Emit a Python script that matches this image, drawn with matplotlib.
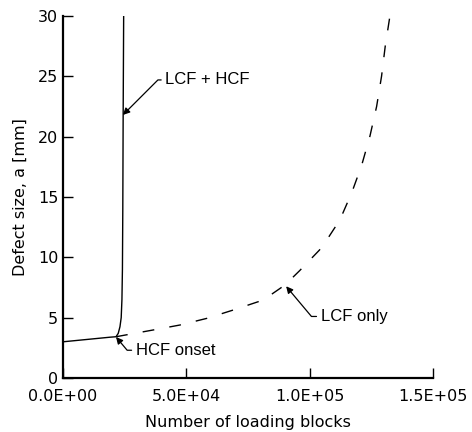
import numpy as np
import matplotlib.pyplot as plt

# crack growth, LCF + HCF (solid)
blocks_mixed = [0, 5000, 10000, 15000, 19000, 21500, 22400, 23100, 23600, 23900, 24100, 24250, 24400, 24600]
size_mixed = [3.0, 3.1, 3.2, 3.3, 3.38, 3.42, 3.7, 4.25, 5.0, 6.5, 9.0, 14.0, 22.0, 30.0]

# crack growth, LCF only (dashed)
blocks_lcf = [21500, 36600, 47400, 58300, 69000, 81200, 90000, 96000, 104000, 107500,
              112300, 117100, 121100, 124500, 127200, 129200, 130700, 132600]
size_lcf = [3.42, 3.98, 4.39, 4.94, 5.63, 6.46, 7.7, 8.9, 10.6, 11.6,
            13.1, 15.35, 17.6, 20.05, 22.5, 25.0, 27.5, 30.0]

xticks = [0, 5e4, 1e5, 1.5e5]
xtick_labels = ["0.0E+00", "5.0E+04", "1.0E+05", "1.5E+05"]
yticks = [0, 5, 10, 15, 20, 25, 30]

fig = plt.figure(figsize=(4.72, 4.32), dpi=100)
ax = fig.add_axes([0.1335, 0.125, 0.7835, 0.838])

ax.plot(blocks_mixed, size_mixed, color="black", lw=1.0)
ax.plot(blocks_lcf, size_lcf, color="black", lw=1.0, linestyle=(0, (8.5, 11)))

ax.set_xlim(0, 1.5e5)
ax.set_ylim(0, 30)
ax.set_xticks(xticks)
ax.set_xticklabels(xtick_labels)
ax.set_yticks(yticks)

for s in ["top", "right"]:
    ax.spines[s].set_visible(False)
for s in ["left", "bottom"]:
    ax.spines[s].set_linewidth(1.6)

ax.tick_params(direction="in", length=7, width=1, labelsize=11.5)
ax.tick_params(axis="x", pad=8)
ax.set_xlabel("Number of loading blocks", fontsize=11.5, labelpad=8)
ax.set_ylabel("Defect size, a [mm]", fontsize=11.5, labelpad=7)

arrow = dict(arrowstyle="-|>", color="black", lw=0.9, mutation_scale=10, shrinkA=1, shrinkB=0)
txt = dict(fontsize=12, family="Liberation Sans", va="center", ha="left")

ax.annotate("LCF + HCF", xy=(24300, 21.8), xytext=(41500, 24.7),
            arrowprops=dict(arrow, connectionstyle="angle,angleA=0,angleB=45,rad=0"), **txt)
ax.annotate("HCF onset", xy=(21500, 3.4), xytext=(29500, 2.3),
            arrowprops=dict(arrow, connectionstyle="angle,angleA=0,angleB=-50,rad=0"), **txt)
ax.annotate("LCF only", xy=(90500, 7.6), xytext=(104500, 5.1),
            arrowprops=dict(arrow, connectionstyle="angle,angleA=0,angleB=-50,rad=0"), **txt)

fig.savefig("out.png", dpi=100)
